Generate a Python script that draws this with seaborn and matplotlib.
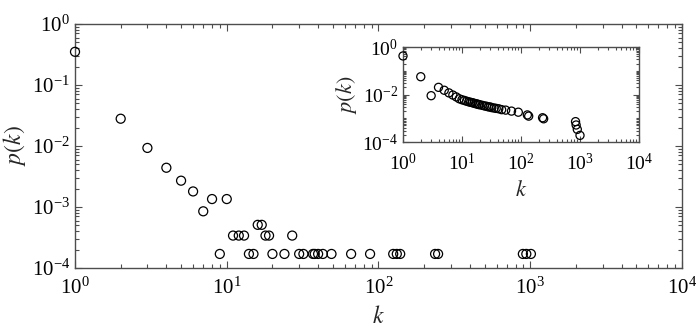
import numpy as np
import pandas as pd
import matplotlib
matplotlib.use("Agg")
import matplotlib.pyplot as plt
import matplotlib.ticker as mticker
import seaborn as sns

# ---- main panel data: degree k and probability p(k) ----
main_k = [1, 2, 3, 4, 5, 6, 7, 8, 10,
          11, 12, 13, 16, 17, 18, 19, 27,
          9, 14, 15, 20, 24, 30, 32, 37, 38, 40, 43, 49, 66, 88,
          125, 132, 139, 236, 247, 894, 942, 1010]
main_p = [0.35, 0.028, 0.0093, 0.0044, 0.0027, 0.0018, 0.00085, 0.00135, 0.00135,
          3.4e-4, 3.4e-4, 3.4e-4, 5.1e-4, 5.1e-4, 3.4e-4, 3.4e-4, 3.4e-4,
          1.7e-4, 1.7e-4, 1.7e-4, 1.7e-4, 1.7e-4, 1.7e-4, 1.7e-4, 1.7e-4, 1.7e-4,
          1.7e-4, 1.7e-4, 1.7e-4, 1.7e-4, 1.7e-4,
          1.7e-4, 1.7e-4, 1.7e-4, 1.7e-4, 1.7e-4, 1.7e-4, 1.7e-4, 1.7e-4]

# ---- inset panel data ----
inset_k = [1, 2, 3, 4, 5, 6, 7, 8, 9, 10, 11, 12, 13, 14, 15, 16, 17, 18, 19, 20,
           22, 24, 26, 28, 30, 32, 35, 38, 42, 47, 55, 69, 90,
           128, 135, 232, 242, 840, 860, 900, 1000]
inset_p = [0.42, 0.056, 0.0089, 0.020, 0.0151, 0.0117, 0.0095, 0.0079, 0.0066, 0.0060,
           0.0056, 0.0052, 0.0049, 0.0047, 0.0045, 0.0043, 0.0041, 0.0040, 0.0038, 0.0037,
           0.0035, 0.0033, 0.0032, 0.0030, 0.0030, 0.0028, 0.0027, 0.0026, 0.0025, 0.0023,
           0.0022, 0.0020, 0.0018,
           0.00138, 0.00123, 0.00105, 0.00095, 0.00072, 0.00052, 0.00034, 0.00019]

x_ticks = [1, 10, 100, 1000, 10000]
main_y_ticks = [1e-4, 1e-3, 1e-2, 1e-1, 1]
inset_y_ticks = [1e-4, 1e-2, 1]

sns.set_style("ticks")
plt.rcParams["font.family"] = ["Liberation Serif", "DejaVu Serif"]
plt.rcParams["mathtext.fontset"] = "stix"
plt.rcParams["axes.edgecolor"] = "0.3"
plt.rcParams["xtick.color"] = "0.3"
plt.rcParams["ytick.color"] = "0.3"
plt.rcParams["xtick.labelcolor"] = "black"
plt.rcParams["ytick.labelcolor"] = "black"

fig = plt.figure(figsize=(7.0, 3.29), dpi=100)
ax = fig.add_axes([75 / 700, 1 - 268 / 329, (682 - 75) / 700, (268 - 24) / 329])
axin = fig.add_axes([403 / 700, 1 - 142 / 329, (639 - 403) / 700, (142 - 47) / 329])

df_main = pd.DataFrame({"k": main_k, "p": main_p})
df_in = pd.DataFrame({"k": inset_k, "p": inset_p})

sns.scatterplot(data=df_main, x="k", y="p", ax=ax, marker="o", s=42,
                color="black", linewidth=0.9, zorder=3, clip_on=False)
sns.scatterplot(data=df_in, x="k", y="p", ax=axin, marker="o", s=34,
                color="black", linewidth=0.9, zorder=3, clip_on=False)
for a in (ax, axin):
    for coll in a.collections:
        coll.set_facecolor("none")
        coll.set_edgecolor("black")


def style(a, yticks, lab_size, label_size, maj_len, min_len):
    a.set_xscale("log")
    a.set_yscale("log")
    a.set_xlim(1, 1e4)
    a.set_ylim(1e-4, 1)
    a.xaxis.set_major_locator(mticker.FixedLocator(x_ticks))
    a.yaxis.set_major_locator(mticker.FixedLocator(yticks))
    a.xaxis.set_minor_locator(mticker.LogLocator(base=10, subs=np.arange(2, 10), numticks=20))
    ymin = mticker.LogLocator(base=10, subs=np.arange(1, 10), numticks=20)
    a.yaxis.set_minor_locator(ymin)
    a.xaxis.set_major_formatter(mticker.LogFormatterSciNotation())
    a.yaxis.set_major_formatter(mticker.LogFormatterSciNotation())
    a.yaxis.set_minor_formatter(mticker.NullFormatter())
    a.tick_params(which="both", direction="in", top=True, right=True, width=0.8)
    a.tick_params(which="major", length=maj_len, labelsize=lab_size)
    a.tick_params(which="minor", length=min_len)
    for sp in a.spines.values():
        sp.set_visible(True)
        sp.set_linewidth(1.0)
        sp.set_color("0.3")
    a.set_xlabel("$k$", fontsize=label_size)
    a.set_ylabel("$p(k)$", fontsize=label_size)


style(ax, main_y_ticks, 15, 17, 5, 3)
style(axin, inset_y_ticks, 14, 16, 4, 2)
ax.tick_params(axis="x", pad=7)
axin.tick_params(axis="x", pad=8)
ax.xaxis.labelpad = 5
ax.yaxis.labelpad = 3
axin.xaxis.labelpad = 5
axin.yaxis.labelpad = 2

fig.savefig("out.png", dpi=100)
